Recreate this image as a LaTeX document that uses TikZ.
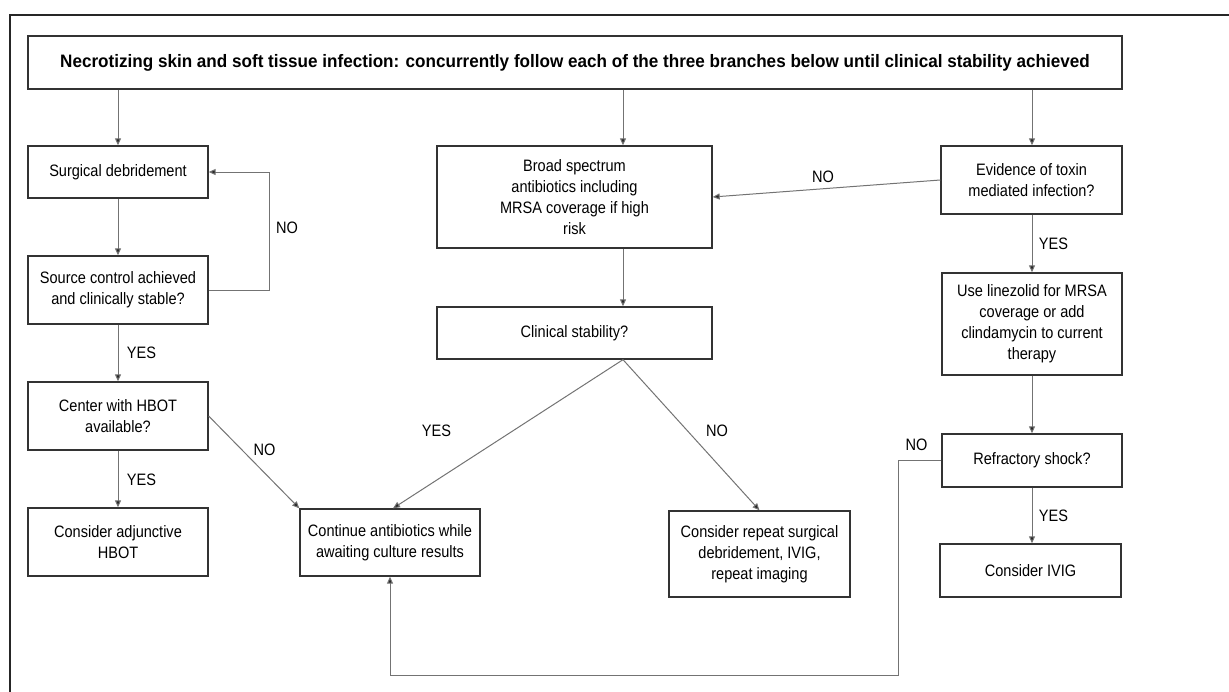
\documentclass[tikz,border=0pt]{standalone}
\usepackage{fontspec}
\setmainfont[FakeStretch=0.88]{Liberation Sans}
\newfontfamily\titlefont[FakeStretch=0.95]{Liberation Sans}
\usetikzlibrary{arrows.meta}

\begin{document}
\begin{tikzpicture}[x=0.75pt,y=0.75pt,yscale=-1,xscale=1,
    box/.style={draw=black!80, line width=1pt, inner sep=0pt, align=center, minimum width=135pt, font=\fontsize{12.4}{15.75}\selectfont},
    lbl/.style={inner sep=0.75pt, font=\fontsize{12.4}{13}\selectfont},
    link/.style={draw=black!55, line width=0.75pt, -{Triangle[width=4.5pt,length=5.25pt,fill=black!85]}}]
\clip (0,0) rectangle (1229,692);

%Frame (cut off at right and bottom)
    \draw [line width=1.2pt, black!85] (10,760) -- (10,15) -- (1300,15);

%Title [top]
    \draw (575,62.5) node (top) [box, minimum width=820.5pt, minimum height=39.75pt, font=\titlefont\bfseries\fontsize{13.5}{15.75}\selectfont] {Necrotizing skin and soft tissue infection: concurrently follow each of the three branches below until clinical stability achieved};

%Left branch
    \draw (118,172) node (sd) [box, minimum height=39pt] {Surgical debridement};
    \draw (118,290) node (src) [box, minimum height=51pt] {Source control achieved\\and clinically stable?};
    \draw (118,416) node (hbot) [box, minimum height=51pt] {Center with HBOT\\available?};
    \draw (118,542) node (adj) [box, minimum height=51pt] {Consider adjunctive\\HBOT};

%Middle branch
    \draw (574.5,197) node (abx) [box, minimum width=206.25pt, minimum height=76.5pt] {Broad spectrum\\antibiotics including\\MRSA coverage if high\\risk};
    \draw (574.5,333) node (clin) [box, minimum width=206.25pt, minimum height=39pt] {Clinical stability?};
    \draw (390,542.5) node (cont) [box, minimum height=50.25pt] {Continue antibiotics while\\awaiting culture results};
    \draw (759.5,554) node (rep) [box, minimum width=135.75pt, minimum height=64.5pt] {Consider repeat surgical\\debridement, IVIG,\\repeat imaging};

%Right branch
    \draw (1031.5,180) node (tox) [box, minimum width=135.75pt, minimum height=51pt] {Evidence of toxin\\mediated infection?};
    \draw (1032,324) node (lin) [box, minimum height=76.5pt] {Use linezolid for MRSA\\coverage or add\\clindamycin to current\\therapy};
    \draw (1032,460.5) node (shock) [box, minimum height=39.75pt] {Refractory shock?};
    \draw (1030.5,570.5) node (ivig) [box, minimum width=135.75pt, minimum height=39.75pt] {Consider IVIG};

%Helpers
    \coordinate (mx) at (623,0);
    \coordinate (loop) at (269,0);
    \coordinate (bend) at (898,675);

%Arrows
    \draw [link] (top.south -| sd) -- (sd.north);
    \draw [link] (top.south -| mx) -- (abx.north -| mx);
    \draw [link] (top.south -| lin) -- (tox.north -| lin);
    \draw [link] (sd) -- (src);
    \draw [link] (src.east) -- (src.east -| loop) |- (sd.east);
    \draw [link] (src) -- (hbot);
    \draw [link] (hbot) -- (adj);
    \draw [link] (hbot.east) -- (cont.north west);
    \draw [link] (abx.south -| mx) -- (clin.north -| mx);
    \draw [link] (clin.south -| mx) -- ([xshift=2.25pt]cont.north);
    \draw [link] (clin.south -| mx) -- (rep.north);
    \draw [link] (tox.west) -- (abx.east);
    \draw [link] (tox.south -| lin) -- (lin.north);
    \draw [link] (lin) -- (shock);
    \draw [link] (shock.south) -- (shock.south |- ivig.north);
    \draw [link] (shock.west) -| (bend) -| (cont.south);

% Text Node
    \draw (287,228) node (no1) [lbl] {NO};
% Text Node
    \draw (141.5,353) node (yes1) [lbl] {YES};
% Text Node
    \draw (141.5,480) node (yes2) [lbl] {YES};
% Text Node
    \draw (264.5,450) node (no2) [lbl] {NO};
% Text Node
    \draw (436.5,431) node (yes3) [lbl] {YES};
% Text Node
    \draw (717,431) node (no3) [lbl] {NO};
% Text Node
    \draw (823,177) node (no4) [lbl] {NO};
% Text Node
    \draw (1053.5,244) node (yes4) [lbl] {YES};
% Text Node
    \draw (916.5,444.5) node (no5) [lbl] {NO};
% Text Node
    \draw (1053.5,516) node (yes5) [lbl] {YES};

\end{tikzpicture}
\end{document}
